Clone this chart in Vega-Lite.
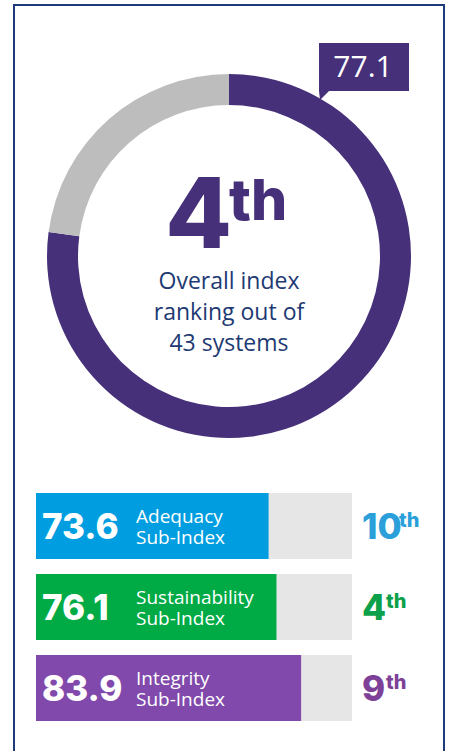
{
  "$schema": "https://vega.github.io/schema/vega-lite/v6.json",
  "width": 430,
  "height": 760,
  "autosize": {"type": "none"},
  "padding": {"left": 14, "top": 5, "right": 5, "bottom": -14},
  "background": "white",
  "config": {"view": {"stroke": "#1e3a78", "strokeWidth": 2}},
  "datasets": {
    "donut": [
      {"part": "score", "value": 77.1},
      {"part": "rest", "value": 22.9}
    ],
    "overall": [
      {"index": "Overall", "score": 77.1, "rank": 4, "systems": 43}
    ],
    "subs": [
      {"name": "Adequacy", "label": "Adequacy\nSub-Index", "score": 73.6, "rank": 10},
      {"name": "Sustainability", "label": "Sustainability\nSub-Index", "score": 76.1, "rank": 4},
      {"name": "Integrity", "label": "Integrity\nSub-Index", "score": 83.9, "rank": 9}
    ]
  },
  "layer": [
    {
      "encoding": {
        "y": {"datum": "Overall", "type": "nominal", "scale": {"type": "point", "domain": ["Overall"], "range": [251, 251]}, "axis": null}
      },
      "layer": [
        {
          "data": {"name": "donut"},
          "mark": {"type": "arc", "radius": 182, "innerRadius": 151},
          "encoding": {
            "theta": {"field": "value", "type": "quantitative", "stack": true},
            "order": {"field": "part", "sort": "descending"},
            "color": {"field": "part", "type": "nominal", "legend": null, "scale": {"domain": ["score", "rest"], "range": ["#46307a", "#bdbdbd"]}}
          }
        },
        {
          "data": {"name": "overall"},
          "mark": {"type": "point", "shape": "M90,-213 H180 V-165 H100 L91,-156 L90,-165 Z", "size": 4, "filled": true, "opacity": 1, "color": "#46307a", "strokeWidth": 0},
          "encoding": {}
        },
        {
          "data": {"name": "overall"},
          "mark": {"type": "text", "font": "Open Sans", "fontSize": 30, "color": "white", "align": "center", "baseline": "alphabetic", "dx": 134, "dy": -179},
          "encoding": {"text": {"field": "score", "type": "quantitative", "format": ".1f"}}
        },
        {
          "data": {"name": "overall"},
          "mark": {"type": "text", "font": "Inter", "fontWeight": 800, "fontSize": 97, "color": "#46307a", "align": "right", "baseline": "alphabetic", "dx": 3, "dy": -8},
          "encoding": {"text": {"field": "rank", "type": "quantitative"}}
        },
        {
          "data": {"name": "overall"},
          "mark": {"type": "text", "font": "Inter", "fontWeight": 800, "fontSize": 57, "color": "#46307a", "align": "left", "baseline": "alphabetic", "dx": 0, "dy": -36},
          "encoding": {"text": {"value": "th"}}
        },
        {
          "data": {"name": "overall"},
          "mark": {"type": "text", "font": "Open Sans", "fontSize": 23, "color": "#1e3a73", "align": "center", "baseline": "alphabetic", "lineBreak": "\n", "lineHeight": 31, "dy": 33},
          "encoding": {"text": {"value": "Overall index\nranking out of\n43 systems"}}
        }
      ]
    },
    {
      "data": {"name": "subs"},
      "encoding": {
        "y": {"field": "name", "type": "nominal", "sort": null, "axis": null, "scale": {"domain": ["Adequacy", "Sustainability", "Integrity"], "range": [488, 716], "paddingInner": 0.185, "paddingOuter": 0}}
      },
      "layer": [
        {
          "mark": {"type": "bar", "color": "#e6e6e6"},
          "encoding": {
            "x": {"datum": 0, "type": "quantitative", "axis": null, "scale": {"domain": [0, 100], "range": [22, 338], "nice": false, "zero": true}},
            "x2": {"datum": 100}
          }
        },
        {
          "mark": {"type": "bar"},
          "encoding": {
            "x": {"field": "score", "type": "quantitative", "axis": null},
            "color": {"field": "name", "type": "nominal", "legend": null, "scale": {"domain": ["Adequacy", "Sustainability", "Integrity"], "range": ["#009ee0", "#00aa45", "#8149ab"]}}
          }
        },
        {
          "mark": {"type": "text", "font": "Inter", "fontWeight": 800, "fontSize": 35, "color": "white", "align": "left", "baseline": "alphabetic", "dx": 6, "dy": 13},
          "encoding": {
            "x": {"datum": 0, "type": "quantitative"},
            "text": {"field": "score", "type": "quantitative", "format": ".1f"}
          }
        },
        {
          "mark": {"type": "text", "font": "Open Sans", "fontSize": 19, "color": "white", "align": "left", "baseline": "alphabetic", "lineBreak": "\n", "lineHeight": 21, "dx": 100, "dy": -3},
          "encoding": {
            "x": {"datum": 0, "type": "quantitative"},
            "text": {"field": "label"}
          }
        },
        {
          "mark": {"type": "text", "font": "Inter", "fontWeight": 800, "fontSize": 35, "align": "left", "baseline": "alphabetic", "dx": 10, "dy": 13},
          "encoding": {
            "x": {"datum": 100, "type": "quantitative"},
            "text": {"field": "rank", "type": "quantitative"},
            "fill": {"field": "name", "type": "nominal", "legend": null, "scale": {"domain": ["Adequacy", "Sustainability", "Integrity"], "range": ["#2a9fda", "#0da04a", "#7e4198"]}}
          }
        },
        {
          "mark": {"type": "text", "font": "Inter", "fontWeight": 800, "fontSize": 20, "align": "left", "baseline": "alphabetic", "dx": {"expr": "datum.rank >= 10 ? 47 : 34"}, "dy": 1},
          "encoding": {
            "x": {"datum": 100, "type": "quantitative"},
            "text": {"value": "th"},
            "fill": {"field": "name", "type": "nominal", "legend": null}
          }
        }
      ]
    }
  ],
  "resolve": {"scale": {"y": "independent", "color": "independent"}}
}
